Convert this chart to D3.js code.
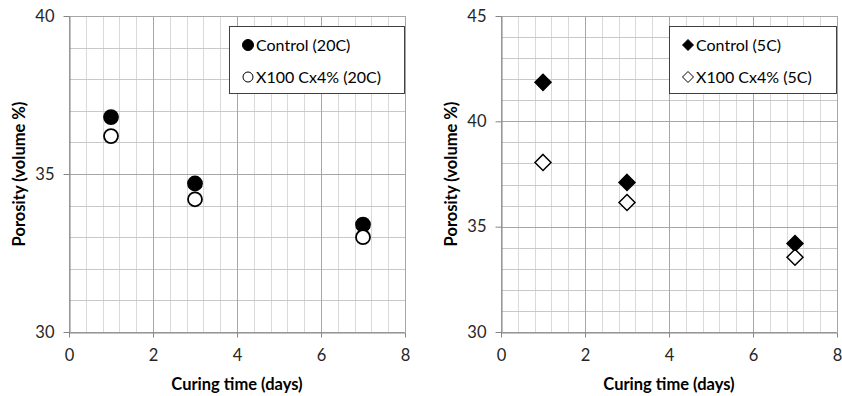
<!DOCTYPE html>
<html>
<head>
<meta charset="utf-8">
<script src="https://cdn.jsdelivr.net/npm/d3@7"></script>
<style>
  body { margin: 0; background: #fff; }
  svg { display: block; font-family: Lato, "Open Sans", sans-serif; }
</style>
</head>
<body>
<svg id="graphic" width="842" height="396"></svg>
<script>
const days = [1, 3, 7];
const control20 = [36.8, 34.7, 33.4];
const x100_20 = [36.2, 34.2, 33.0];
const control5 = [41.85, 37.1, 34.2];
const x100_5 = [38.05, 36.15, 33.55];
const xTicks = [0, 2, 4, 6, 8];
const leftYTicks = [30, 35, 40];
const rightYTicks = [30, 35, 40, 45];

const svg = d3.select('#graphic');

function renderPanel(opts) {
  const {left, right, top, bottom, yDomain, yTicks, series, shape, legendBox} = opts;
  const g = svg.append('g');

  const xScale = d3.scaleLinear().domain([0, 8]).range([left, right]);
  const yScale = d3.scaleLinear().domain(yDomain).range([bottom, top]);

  // minor grid
  const xMinor = d3.range(0, 8.001, 0.4);
  const yMinor = d3.range(yDomain[0], yDomain[1] + 0.001, 1);
  g.selectAll('.vminor').data(xMinor).enter().append('line')
      .attr('x1', (d) => Math.round(xScale(d)) + 0.5).attr('x2', (d) => Math.round(xScale(d)) + 0.5)
      .attr('y1', top).attr('y2', bottom)
      .attr('stroke', '#d9d9d9');
  g.selectAll('.hminor').data(yMinor).enter().append('line')
      .attr('x1', left).attr('x2', right)
      .attr('y1', (d) => Math.round(yScale(d)) + 0.5).attr('y2', (d) => Math.round(yScale(d)) + 0.5)
      .attr('stroke', '#c8c8c8');
  // major grid
  g.selectAll('.vmajor').data(xTicks).enter().append('line')
      .attr('x1', (d) => Math.round(xScale(d)) + 0.5).attr('x2', (d) => Math.round(xScale(d)) + 0.5)
      .attr('y1', top).attr('y2', bottom)
      .attr('stroke', '#a6a6a6');
  g.selectAll('.hmajor').data(yTicks).enter().append('line')
      .attr('x1', left).attr('x2', right)
      .attr('y1', (d) => Math.round(yScale(d)) + 0.5).attr('y2', (d) => Math.round(yScale(d)) + 0.5)
      .attr('stroke', '#a6a6a6');

  // axes
  const xAxis = d3.axisBottom(xScale).tickValues(xTicks).tickSize(5).tickSizeOuter(0).tickPadding(9);
  const yAxis = d3.axisLeft(yScale).tickValues(yTicks).tickSize(6).tickSizeOuter(0).tickPadding(9);
  const gx = g.append('g').attr('transform', `translate(0, ${Math.round(bottom) + 0.5})`).call(xAxis);
  const gy = g.append('g').attr('transform', `translate(${Math.round(left) + 0.5}, 0)`).call(yAxis);
  [gx, gy].forEach((ax) => {
    ax.select('.domain').attr('stroke', '#868686');
    ax.selectAll('.tick line').attr('stroke', '#868686');
    ax.selectAll('.tick text').attr('fill', '#262626').attr('font-size', 16.5)
        .attr('font-family', 'Lato, sans-serif');
  });
  gx.selectAll('.tick text').attr('dy', '0.85em');

  // axis titles
  g.append('text')
      .attr('x', (left + right) / 2).attr('y', 390)
      .attr('text-anchor', 'middle').attr('font-size', 16.5).attr('font-weight', 'bold')
      .text('Curing time (days)');
  g.append('text')
      .attr('transform', `translate(${left - 44}, ${(top + bottom) / 2}) rotate(-90)`)
      .attr('text-anchor', 'middle').attr('font-size', 16.5).attr('font-weight', 'bold')
      .text('Porosity (volume %)');

  // markers
  function drawMarker(sel, filled, size) {
    if (shape === 'circle') {
      sel.append('circle').attr('r', size)
          .attr('fill', filled ? '#000' : '#fff').attr('stroke', '#000').attr('stroke-width', 1.8);
    } else {
      const s = size;
      sel.append('path').attr('d', `M0,${-s}L${s},0L0,${s}L${-s},0Z`)
          .attr('fill', filled ? '#000' : '#fff').attr('stroke', '#000').attr('stroke-width', 1.5)
          .attr('stroke-linejoin', 'miter');
    }
  }

  series.forEach((s) => {
    days.forEach((d, i) => {
      const m = g.append('g').attr('transform', `translate(${xScale(d)}, ${yScale(s.values[i])})`);
      drawMarker(m, s.filled, shape === 'circle' ? 7 : 8);
    });
  });

  // legend
  const lg = g.append('g');
  lg.append('rect')
      .attr('x', legendBox.x + 0.5).attr('y', legendBox.y + 0.5)
      .attr('width', legendBox.w).attr('height', legendBox.h)
      .attr('fill', '#fff').attr('stroke', '#404040').attr('stroke-width', 1);
  series.forEach((s, i) => {
    const cy = legendBox.y + 19 + i * 32;
    const m = lg.append('g').attr('transform', `translate(${legendBox.x + 19}, ${cy})`);
    if (shape === 'circle') {
      m.append('circle').attr('r', s.filled ? 5.5 : 5)
          .attr('fill', s.filled ? '#000' : '#fff').attr('stroke', '#000').attr('stroke-width', 1);
    } else {
      m.append('path').attr('d', 'M0,-5.5L5.5,0L0,5.5L-5.5,0Z')
          .attr('fill', s.filled ? '#000' : '#fff').attr('stroke', '#000').attr('stroke-width', 1);
    }
    lg.append('text')
        .attr('x', legendBox.x + 27).attr('y', cy).attr('dy', '0.35em')
        .attr('font-size', 16).attr('fill', '#000')
        .text(s.name);
  });
}

renderPanel({
  left: 69, right: 405, top: 16, bottom: 332,
  yDomain: [30, 40], yTicks: leftYTicks, shape: 'circle',
  series: [
    {name: 'Control (20C)', values: control20, filled: true},
    {name: 'X100 Cx4% (20C)', values: x100_20, filled: false},
  ],
  legendBox: {x: 229, y: 26, w: 175, h: 67},
});

renderPanel({
  left: 501, right: 837, top: 16, bottom: 332,
  yDomain: [30, 45], yTicks: rightYTicks, shape: 'diamond',
  series: [
    {name: 'Control (5C)', values: control5, filled: true},
    {name: 'X100 Cx4% (5C)', values: x100_5, filled: false},
  ],
  legendBox: {x: 669, y: 26, w: 167, h: 67},
});
</script>
</body>
</html>
